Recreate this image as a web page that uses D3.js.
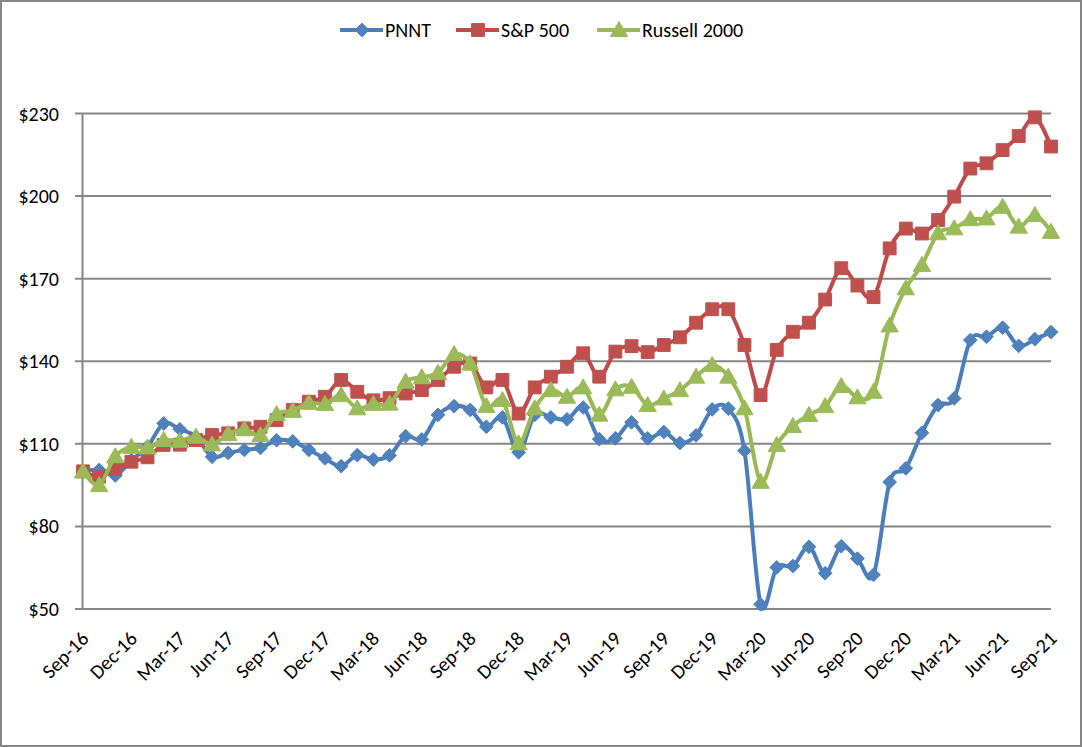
<!DOCTYPE html>
<html>
<head>
<meta charset="utf-8">
<script src="https://cdn.jsdelivr.net/npm/d3@7"></script>
<style>
  body { margin: 0; background: #fff; }
  svg text { font-family: Carlito, Calibri, Lato, "Open Sans", sans-serif; fill: #000; }
</style>
</head>
<body>
<svg id="chart" width="1082" height="747"></svg>
<script>
// monthly categories, Sep-16 .. Sep-21
var months = ["Sep-16","Oct-16","Nov-16","Dec-16","Jan-17","Feb-17","Mar-17","Apr-17","May-17","Jun-17","Jul-17","Aug-17",
  "Sep-17","Oct-17","Nov-17","Dec-17","Jan-18","Feb-18","Mar-18","Apr-18","May-18","Jun-18","Jul-18","Aug-18",
  "Sep-18","Oct-18","Nov-18","Dec-18","Jan-19","Feb-19","Mar-19","Apr-19","May-19","Jun-19","Jul-19","Aug-19",
  "Sep-19","Oct-19","Nov-19","Dec-19","Jan-20","Feb-20","Mar-20","Apr-20","May-20","Jun-20","Jul-20","Aug-20",
  "Sep-20","Oct-20","Nov-20","Dec-20","Jan-21","Feb-21","Mar-21","Apr-21","May-21","Jun-21","Jul-21","Aug-21","Sep-21"];

var pnnt = [100,100.5,98.5,104,109,117.4,115.3,112.6,105.3,106.7,107.8,108.5,
  111.3,110.9,107.8,104.7,101.9,105.9,104.3,105.8,112.8,111.6,120.5,123.7,
  122.3,116.2,119.6,106.9,120.5,119.6,118.9,123.2,111.7,112,117.8,112,
  114.3,110.3,113.1,122.5,122.8,107.5,51.7,65.1,65.6,72.6,63,72.8,
  68.3,62.4,96.1,101.1,114,124.1,126.5,147.7,148.9,152.2,145.6,148,150.6];

var sp500 = [100,98.1,101,103.5,105.1,109.6,109.7,111.4,113.2,113.8,115.6,116.2,
  118.6,122.3,125.3,127.1,133.2,128.9,125.8,126.6,128.3,129.5,133.2,138,
  139.2,130.5,133.2,121,130.5,134.4,138,142.9,134.4,143.5,145.5,143.3,
  145.9,148.7,154,158.9,158.9,145.9,127.7,144.1,150.7,154,162.4,173.8,
  167.5,163.3,181,188.2,186.4,191.3,199.8,210,211.9,216.7,221.8,228.6,218];

var russell = [100,95,105.5,108.9,108.7,111.4,111.1,112.6,109.8,113.6,115.3,113.2,
  120.8,122,124.9,124.5,127.7,122.9,124.5,124.6,132.6,134.2,135.8,142.6,
  139.2,123.7,125.9,110.2,122.9,129.5,127.1,130.5,120.6,129.8,130.7,124.1,
  126.5,129.5,134.4,138.6,134.4,122.9,96.2,109.6,116.5,120.5,123.7,131,
  126.9,128.9,153,166.5,175,186.5,188.3,191.6,191.9,196.1,188.9,193.1,187];

var seriesNames = ["PNNT", "S&P 500", "Russell 2000"];
var yTicks = [50, 80, 110, 140, 170, 200, 230];

var series = [
  { name: seriesNames[0], values: pnnt,    line: "#4A7EBB", fill: "#4F81BD", marker: "diamond" },
  { name: seriesNames[1], values: sp500,   line: "#BE4B48", fill: "#C0504D", marker: "square" },
  { name: seriesNames[2], values: russell, line: "#98B954", fill: "#9BBB59", marker: "triangle" }
];

var svg = d3.select("#chart");

// outer frame
svg.append("rect")
  .attr("x", 1).attr("y", 1)
  .attr("width", 1080).attr("height", 745)
  .style("fill", "#fff")
  .style("stroke", "#868686")
  .style("stroke-width", 2);

var x = d3.scalePoint().domain(months).range([83, 1051]);
var y = d3.scaleLinear().domain([50, 230]).range([609, 113.5]);

// gridlines + y ticks
svg.append("g")
  .selectAll("line")
  .data(yTicks)
  .enter().append("line")
    .attr("x1", 75).attr("x2", 1051)
    .attr("y1", function(d) { return y(d); })
    .attr("y2", function(d) { return y(d); })
    .style("stroke", "#868686")
    .style("stroke-width", 2);

svg.append("line")
  .attr("x1", 82.5).attr("x2", 82.5)
  .attr("y1", y(230)).attr("y2", y(50))
  .style("stroke", "#868686")
  .style("stroke-width", 2);

svg.append("g")
  .selectAll("text")
  .data(yTicks)
  .enter().append("text")
    .attr("x", 59)
    .attr("y", function(d) { return y(d); })
    .attr("dy", "0.35em")
    .attr("text-anchor", "end")
    .style("font-size", "20px")
    .text(function(d) { return "$" + d; });

// x labels every 3 months
svg.append("g")
  .selectAll("text")
  .data(months.filter(function(d, i) { return i % 3 == 0; }))
  .enter().append("text")
    .attr("transform", function(d) { return "translate(" + (x(d) - 3) + ",630) rotate(-45)"; })
    .attr("dy", "0.7em")
    .attr("text-anchor", "end")
    .style("font-size", "20px")
    .text(function(d) { return d; });

var symbols = {
  diamond: d3.symbol().type(d3.symbolDiamond2).size(120),
  square: d3.symbol().type(d3.symbolSquare).size(165),
  triangle: d3.symbol().type(d3.symbolTriangle).size(130)
};

var line = d3.line()
  .x(function(d, i) { return x(months[i]); })
  .y(function(d) { return y(d); })
  .curve(d3.curveCatmullRom.alpha(0));

series.forEach(function(s) {
  var g = svg.append("g");
  g.append("path")
    .attr("d", line(s.values))
    .style("fill", "none")
    .style("stroke", s.line)
    .style("stroke-width", 4)
    .style("stroke-linejoin", "round");
  g.selectAll("path.mk")
    .data(s.values)
    .enter().append("path")
      .attr("class", "mk")
      .attr("d", symbols[s.marker])
      .attr("transform", function(d, i) {
        var dy = s.marker == "triangle" ? 1.5 : 0;
        return "translate(" + x(months[i]) + "," + (y(d) + dy) + ")";
      })
      .style("fill", s.fill)
      .style("stroke", s.fill)
      .style("stroke-width", 1);
});

// legend
var legendX = [340, 456, 597];
var leg = svg.append("g");
series.forEach(function(s, i) {
  var lx = legendX[i];
  leg.append("line")
    .attr("x1", lx).attr("x2", lx + 43)
    .attr("y1", 30).attr("y2", 30)
    .style("stroke", s.line)
    .style("stroke-width", 4);
  leg.append("path")
    .attr("d", symbols[s.marker])
    .attr("transform", "translate(" + (lx + 22) + "," + (s.marker == "triangle" ? 31.5 : 30) + ")")
    .style("fill", s.fill)
    .style("stroke", s.fill);
  leg.append("text")
    .attr("x", lx + 45)
    .attr("y", 30)
    .attr("dy", "0.35em")
    .style("font-size", "20px")
    .text(s.name);
});
</script>
</body>
</html>
